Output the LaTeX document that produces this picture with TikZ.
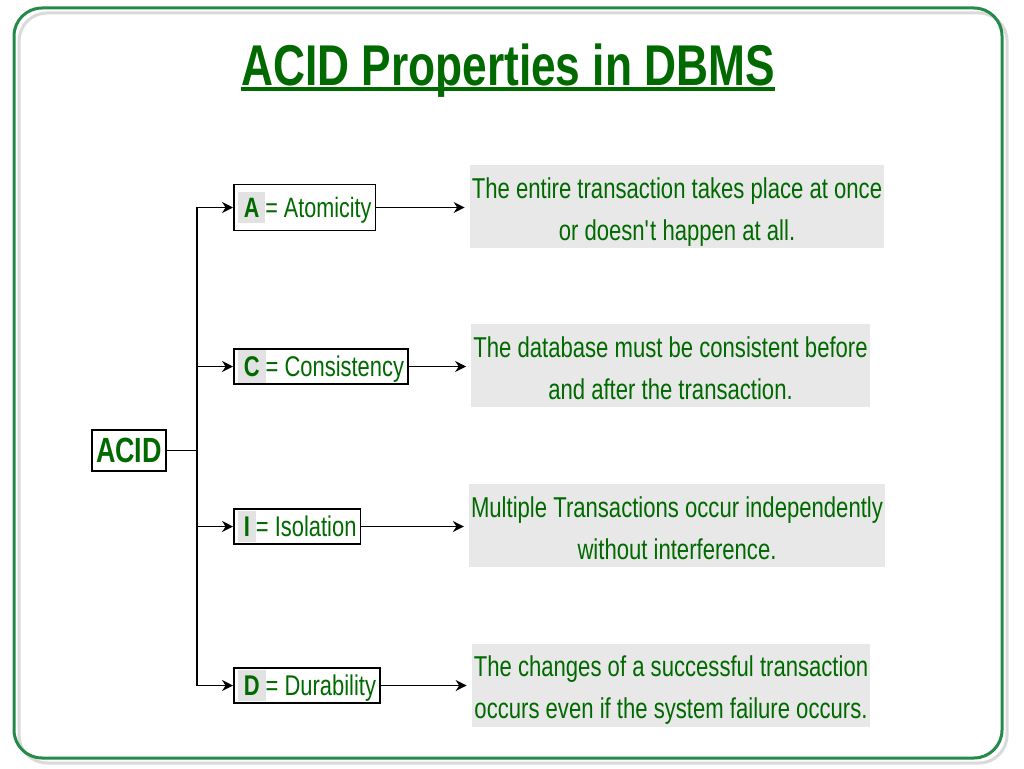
\documentclass[tikz,border=0pt]{standalone}
\usepackage{fontspec}
\setmainfont[FakeStretch=0.77]{Liberation Sans}
\usetikzlibrary{arrows.meta}
\definecolor{textgreen}{RGB}{0,105,0}
\definecolor{framegreen}{RGB}{36,138,72}
\definecolor{shadowgray}{RGB}{218,218,218}
\definecolor{boxgray}{RGB}{232,232,232}
\definecolor{hlgray}{RGB}{226,226,226}
\def\letterbox#1{{\setlength{\fboxsep}{6pt}\colorbox{hlgray}{\textbf{#1}}}}% grey patch behind the initial
\def\twolines#1#2{\rule{0pt}{31pt}#1\\#2\rule[-6pt]{0pt}{6pt}}% fixed line heights in the grey boxes

\begin{document}
\begin{tikzpicture}[x=1pt,y=-1pt,
	prop/.style={draw,line width=1.6pt,text=textgreen,anchor=west,inner xsep=4pt,inner ysep=0pt,minimum height=35pt,font=\fontsize{28.5}{32}\selectfont},
	desc/.style={fill=boxgray,text=textgreen,align=center,inner xsep=2pt,inner ysep=0pt,minimum height=83pt,font=\fontsize{28.7}{42}\selectfont},
	link/.style={line width=1.7pt},
	arr/.style={link,-{Stealth[length=11pt,width=11pt]}}]
	\useasboundingbox (0,0) rectangle (1024,768);
	\draw[shadowgray,line width=3pt,rounded corners=28pt] (19,13) rectangle (1007,763);
	\draw[framegreen,line width=3pt,rounded corners=28pt] (14,8) rectangle (1002,758);
	%
	\node[text=textgreen,font=\fontsize{57.5}{60}\selectfont\bfseries,inner sep=0pt,anchor=base] (title) at (508,85) {ACID Properties in DBMS};
	\draw[textgreen,line width=4pt] ([yshift=-3.5pt]title.base west) -- ([yshift=-3.5pt]title.base east);
	%
	\node[draw,line width=1.6pt,text=textgreen,font=\fontsize{35}{40}\selectfont\bfseries,minimum width=74pt,minimum height=41pt,inner sep=0pt] (acid) at (129,450.5) {ACID};
	\coordinate (trunk) at (197,450.5);
	\node[prop,minimum height=46pt,font=\fontsize{28}{32}\selectfont] (atom) at (233,207.5) {\letterbox{A}= Atomicity};
	\node[prop] (cons) at (233,366.5) {\letterbox{C}= Consistency};
	\node[prop] (isol) at (233,526.5) {\letterbox{I}= Isolation};
	\node[prop] (dura) at (233,685.5) {\letterbox{D}= Durability};
	%
	\node[desc] (atomtxt) at (677,206.5) {\twolines{The entire transaction takes place at once}{or doesn\textquotesingle t happen at all.}};
	\node[desc] (constxt) at (670.5,365.5) {\twolines{The database must be consistent before}{and after the transaction.}};
	\node[desc] (isoltxt) at (677,525.5) {\twolines{Multiple Transactions occur independently}{without interference.}};
	\node[desc] (duratxt) at (671,685) {\twolines{The changes of a successful transaction}{occurs even if the system failure occurs.}};
	%
	\draw[link] (acid) -- (trunk);
	\foreach \p/\q in {atom/atomtxt,cons/constxt,isol/isoltxt,dura/duratxt}{
		\draw[arr] (trunk) |- (\p);
		\draw[arr,shorten >=5pt] (\p.east) -- (\p.east -| \q.west);
	}
\end{tikzpicture}
\end{document}
